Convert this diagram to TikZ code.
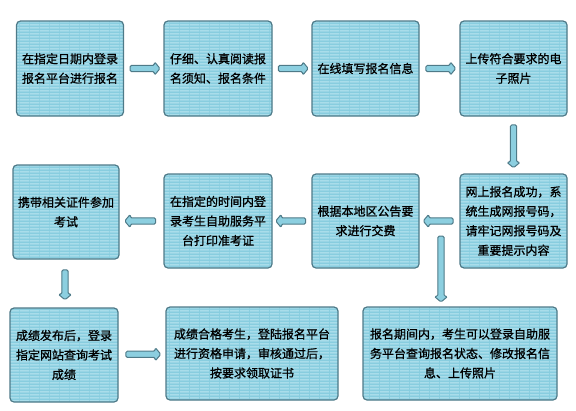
\documentclass[tikz,border=0pt]{standalone}
\usepackage{fontspec}
\newfontfamily\cjk[FakeBold=1]{Noto Sans CJK SC}
\usetikzlibrary{shapes.arrows,patterns,calc}
\definecolor{boxfill}{HTML}{88CDDF}
\definecolor{boxstripe}{HTML}{BCE6F0}
\definecolor{boxline}{HTML}{4E7A88}
\definecolor{arrfill}{HTML}{8CCFE0}
\pgfdeclarepatternformonly{hstripes}{\pgfpointorigin}{\pgfqpoint{10pt}{3pt}}{\pgfqpoint{10pt}{3pt}}{%
  \pgfsetlinewidth{1.1pt}%
  \pgfpathmoveto{\pgfqpoint{-0.1pt}{1.5pt}}\pgfpathlineto{\pgfqpoint{10.1pt}{1.5pt}}\pgfusepath{stroke}}
\tikzset{
  stepbox/.style={draw=boxline, line width=1.2pt, rounded corners=4pt,
    preaction={fill=boxfill}, pattern=hstripes, pattern color=boxstripe,
    align=center, inner sep=2pt,
    font=\cjk\fontsize{12pt}{19.5pt}\selectfont},
  barrow/.style={single arrow, draw=boxline, fill=arrfill, line width=1pt,
    inner sep=2.6pt, single arrow head extend=3.6pt, single arrow tip angle=100,
    rounded corners=1.5pt, minimum width=0pt},
}
\begin{document}
\begin{tikzpicture}[x=1pt,y=-1pt]
\useasboundingbox (0,0) rectangle (576,410);
% row 1
\node[stepbox, minimum width=107pt, minimum height=95pt] (b1) at (70,68.5) {在指定日期内登录\\报名平台进行报名};
\node[stepbox, minimum width=108pt, minimum height=95pt] (b2) at (218,68.5) {仔细、认真阅读报\\名须知、报名条件};
\node[stepbox, minimum width=107pt, minimum height=95pt] (b3) at (365.5,68.5) {在线填写报名信息};
\node[stepbox, minimum width=107pt, minimum height=95pt] (b4) at (513.5,68.5) {上传符合要求的电\\子照片};
% row 2
\node[stepbox, minimum width=107pt, minimum height=94pt] (b5) at (513.5,221) {网上报名成功，系\\统生成网报号码，\\请牢记网报号码及\\重要提示内容};
\node[stepbox, minimum width=107pt, minimum height=94pt] (b6) at (365.5,221) {根据本地区公告要\\求进行交费};
\node[stepbox, minimum width=108pt, minimum height=94pt] (b7) at (218,221) {在指定的时间内登\\录考生自助服务平\\台打印准考证};
\node[stepbox, minimum width=106pt, minimum height=94pt] (b8) at (66,212) {携带相关证件参加\\考试};
% row 3
\node[stepbox, minimum width=108pt, minimum height=94pt] (b9) at (64,355) {成绩发布后，登录\\指定网站查询考试\\成绩};
\node[stepbox, minimum width=172pt, minimum height=93pt] (b10) at (252,353.5) {成绩合格考生，登陆报名平台\\进行资格申请，审核通过后，\\按要求领取证书};
\node[stepbox, minimum width=194pt, minimum height=93pt] (b11) at (460,353.5) {报名期间内，考生可以登录自助服\\务平台查询报名状态、修改报名信\\息、上传照片};
% arrows
\node[barrow, minimum height=30pt] (a1) at ($(b1.east)!0.5!(b2.west)$) {};
\node[barrow, minimum height=30pt] (a2) at ($(b2.east)!0.5!(b3.west)$) {};
\node[barrow, minimum height=30pt] (a3) at ($(b3.east)!0.5!(b4.west)$) {};
\node[barrow, minimum height=43pt, rotate=-90] (a4) at ($(b4.south)!0.5!(b5.north)$) {};
\node[barrow, minimum height=30pt, rotate=180] (a5) at ($(b5.west)!0.5!(b6.west-|b6.east)$) {};
\node[barrow, minimum height=30pt, rotate=180] (a6) at ($(b6.west)!0.5!(b7.east)$) {};
\node[barrow, minimum height=31pt, rotate=180] (a7) at ($(b7.west)!0.5!(b8.east|-b7.west)$) {};
\node[barrow, minimum height=30pt, rotate=-90] (a8) at ($(b8.south)!0.5!(b9.north)$) {};
\node[barrow, minimum height=35pt] (a9) at ($(b9.east)!0.5!(b10.west)$) {};
\coordinate (c1) at (441,235);
\coordinate (c2) at ($(c1|-b11.north)+(0,-6)$);
\node[barrow, minimum height=66pt, rotate=-90] (a10) at ($(c1)!0.5!(c2)$) {};
\end{tikzpicture}
\end{document}
